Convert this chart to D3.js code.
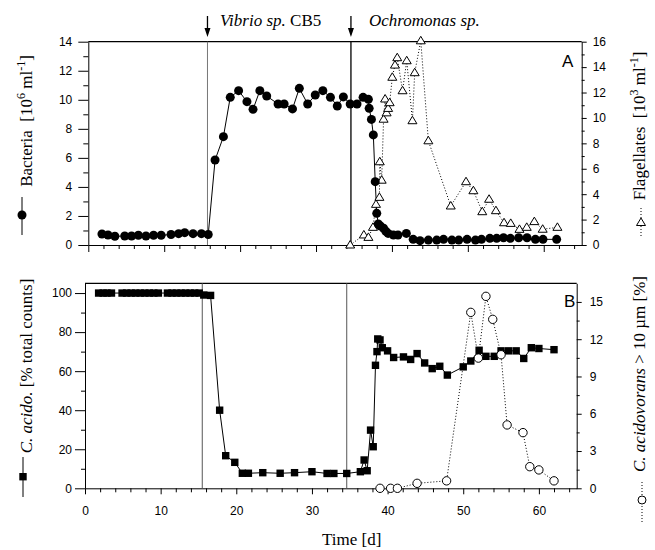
<!DOCTYPE html>
<html lang="en">
<head>
<meta charset="UTF-8" />
<title>Bacteria and flagellates</title>
<style>
  body { margin: 0; background: #fff; }
  svg { display: block; background: #fff; }
  .tick text { font-family: "Liberation Sans", Arial, sans-serif; font-size: 12px; fill: #000; }
  .tick line, .domain { stroke: #000; }
  .serif { font-family: "Liberation Serif", "Times New Roman", serif; font-size: 17px; fill: #000; }
</style>
</head>
<body>
<svg id="chart" width="655" height="550"></svg>
<script src="https://d3js.org/d3.v7.min.js"></script>
<script>
// ---- panel A: bacteria (left axis) ----
const bactDay = [1.8, 2.6, 3.5, 4.8, 5.7, 6.6, 7.6, 8.6, 9.6, 10.9, 11.9, 12.7, 13.8, 14.9, 15.8,
  16.7, 17.8, 18.7, 19.8, 20.9, 21.7, 22.6, 23.5, 25.0, 25.8, 26.9, 27.8, 28.9, 29.9, 30.9, 31.9,
  32.8, 33.6, 34.5, 35.4, 36.2, 36.9, 37.0, 37.3, 37.55, 37.8, 38.0, 38.2, 38.5, 38.9, 39.2, 39.5,
  40.2, 40.8, 41.9, 42.8, 43.7, 44.8, 45.9, 46.8, 47.9, 48.8, 49.9, 51.0, 51.8, 52.9, 53.8, 54.7,
  55.6, 56.7, 57.8, 58.9, 59.9, 61.7];
const bactVal = [0.76, 0.69, 0.6, 0.62, 0.62, 0.67, 0.62, 0.67, 0.67, 0.72, 0.78, 0.85, 0.78, 0.78, 0.72,
  5.85, 7.46, 10.17, 10.63, 9.87, 9.34, 10.63, 10.26, 9.71, 9.71, 9.37, 10.79, 9.71, 10.33, 10.63, 10.17,
  9.57, 10.2, 9.71, 9.71, 10.17, 10.03, 9.41, 8.65, 7.58, 4.36, 2.18, 1.45, 1.3, 1.15, 0.95, 0.8,
  0.69, 0.69, 0.8, 0.39, 0.3, 0.34, 0.34, 0.39, 0.34, 0.34, 0.39, 0.34, 0.39, 0.46, 0.46, 0.5,
  0.46, 0.5, 0.5, 0.39, 0.39, 0.39];

// ---- panel A: flagellates (right axis) ----
const flagDay = [34.5, 36.3, 36.9, 37.5, 37.9, 38.35, 38.4, 38.65, 38.9, 39.1, 39.3, 39.5, 39.7, 40.05,
  40.4, 40.7, 41.4, 41.95, 42.7, 43.0, 43.8, 44.8, 47.75, 49.76, 50.73, 51.9, 52.8, 53.7, 54.77,
  55.65, 56.8, 57.76, 58.76, 59.86, 61.8];
const flagVal = [0.0, 0.79, 0.6, 1.39, 3.2, 3.75, 6.55, 5.1, 9.9, 11.49, 10.4, 10.75, 11.2, 13.2,
  14.16, 14.74, 12.14, 14.5, 9.78, 13.56, 16.07, 8.2, 3.07, 4.98, 4.27, 2.62, 3.6, 2.7, 1.75,
  1.7, 1.23, 1.39, 1.84, 1.24, 1.39];

// ---- panel B: C. acidovorans share (left axis) ----
const acidoDay = [1.8, 2.4, 2.9, 3.5, 4.9, 5.5, 6.1, 6.7, 7.3, 7.9, 8.5, 9.1, 9.7, 10.9, 11.5, 12.1,
  12.7, 13.3, 13.9, 14.5, 15.1, 15.7, 16.6, 17.8, 18.6, 19.8, 20.8, 21.6, 23.5, 25.8, 27.7, 30.0,
  32.0, 32.9, 34.6, 36.4, 36.9, 37.3, 37.75, 38.1, 38.4, 38.6, 38.7, 39.0, 39.3, 40.0, 40.8, 42.1,
  43.05, 43.9, 44.9, 45.9, 46.9, 47.9, 50.0, 51.0, 52.1, 53.0, 54.1, 55.0, 56.0, 57.0, 58.0, 59.0,
  60.0, 62.0];
const acidoVal = [100, 100, 100, 100, 100, 100, 100, 100, 100, 100, 100, 100, 100, 100, 100, 100,
  100, 100, 100, 100, 100, 99, 98.8, 40, 16.7, 13.3, 7.7, 7.7, 8.0, 7.7, 8.0, 8.5,
  7.6, 7.6, 7.6, 8.5, 14.5, 9.0, 29.8, 21.3, 63, 70, 76.5, 76, 72, 70.4, 67, 67.3,
  66, 69, 64.2, 61.3, 62.5, 58, 62.2, 65.2, 70.7, 67.6, 67.6, 70.4, 70.4, 70.4, 66.5, 72,
  71.6, 71];

// ---- panel B: C. acidovorans > 10 um (right axis) ----
const largeDay = [39.0, 40.4, 41.3, 43.9, 47.8, 51.0, 52.0, 53.0, 53.9, 55.0, 55.8, 57.9, 58.8, 60.0, 62.0];
const largeVal = [0, 0, 0, 0.4, 0.6, 14.16, 10.48, 15.45, 13.6, 10.75, 5.1, 4.48, 1.74, 1.48, 0.6];

// events (day of addition)
const eventDayA = [15.7, 34.6];
const eventDayB = [15.5, 34.6];

// ticks
const xMajor = [0, 10, 20, 30, 40, 50, 60];
const xMinor = [2, 4, 6, 8, 12, 14, 16, 18, 22, 24, 26, 28, 32, 34, 36, 38, 42, 44, 46, 48, 52, 54, 56, 58, 62, 64];
const yA1Major = [0, 2, 4, 6, 8, 10, 12, 14];
const yA1Minor = [1, 3, 5, 7, 9, 11, 13];
const yA2Major = [0, 2, 4, 6, 8, 10, 12, 14, 16];
const yA2Minor = [1, 3, 5, 7, 9, 11, 13, 15];
const yB1Major = [0, 20, 40, 60, 80, 100];
const yB1Minor = [10, 30, 50, 70, 90];
const yB2Major = [0, 3, 6, 9, 12, 15];
const yB2Minor = [1.5, 4.5, 7.5, 10.5, 13.5];

const svg = d3.select("#chart");

// scales
const xA = d3.scaleLinear().domain([0, 65]).range([88.3, 581.7]);
const yA1 = d3.scaleLinear().domain([0, 14]).range([245, 41.7]);
const yA2 = d3.scaleLinear().domain([0, 16]).range([245, 41.7]);
const xB = d3.scaleLinear().domain([0, 65]).range([85, 576.7]);
const yB1 = d3.scaleLinear().domain([0, 105]).range([488.3, 283.3]);
const yB2 = d3.scaleLinear().domain([0, 16.5]).range([488.3, 283.3]);

function addAxis(axisFn, scale, major, minor, bigSize, smallSize, pad, transform, labels) {
  const gMin = svg.append("g").attr("transform", transform)
    .call(axisFn(scale).tickValues(minor).tickSize(smallSize).tickSizeOuter(0).tickFormat(""));
  gMin.select(".domain").remove();
  const g = svg.append("g").attr("transform", transform)
    .call(axisFn(scale).tickValues(major).tickSize(bigSize).tickSizeOuter(0).tickPadding(pad)
      .tickFormat(labels ? d3.format("d") : ""));
  return g;
}

// panel A axes
addAxis(d3.axisLeft, yA1, yA1Major, yA1Minor, 10, 5, 6, "translate(88.3,0)", true);
addAxis(d3.axisRight, yA2, yA2Major, yA2Minor, 5, 3, 6, "translate(581.7,0)", true);
addAxis(d3.axisBottom, xA, xMajor, xMinor, 7, 4, 3, "translate(0,245)", false);
svg.append("line").attr("x1", 88.3).attr("x2", 581.7).attr("y1", 41.7).attr("y2", 41.7)
  .attr("stroke", "#000").attr("stroke-width", 1.2);

// panel B axes
addAxis(d3.axisLeft, yB1, yB1Major, yB1Minor, 10, 4, 3, "translate(85,0)", true);
addAxis(d3.axisRight, yB2, yB2Major, yB2Minor, 5, 3, 8, "translate(576.7,0)", true);
addAxis(d3.axisBottom, xB, xMajor, xMinor, 6, 4, 12, "translate(0,488.3)", true);
svg.append("line").attr("x1", 85).attr("x2", 576.7).attr("y1", 283.3).attr("y2", 283.3)
  .attr("stroke", "#000").attr("stroke-width", 1.2);

// event lines and arrows
eventDayA.forEach((d, i) => {
  const x = xA(d);
  svg.append("line").attr("x1", x).attr("x2", x).attr("y1", 41.7).attr("y2", 245)
    .attr("stroke", i === 0 ? "#777" : "#000").attr("stroke-width", i === 0 ? 1 : 1.3);
  svg.append("line").attr("x1", x).attr("x2", x).attr("y1", 16).attr("y2", 31)
    .attr("stroke", "#000").attr("stroke-width", 1.3);
  svg.append("path").attr("d", `M${x - 3},28 L${x + 3},28 L${x},37 Z`).attr("fill", "#000");
});
eventDayB.forEach(d => {
  svg.append("line").attr("x1", xB(d)).attr("x2", xB(d)).attr("y1", 283.3).attr("y2", 488.3)
    .attr("stroke", "#555").attr("stroke-width", 1);
});

// event labels
const t1 = svg.append("text").attr("class", "serif").attr("x", 220).attr("y", 26);
t1.append("tspan").attr("font-style", "italic").text("Vibrio sp.");
t1.append("tspan").text(" CB5");
svg.append("text").attr("class", "serif").attr("x", 369).attr("y", 26)
  .attr("font-style", "italic").text("Ochromonas sp.");

// panel letters
svg.append("text").attr("x", 562).attr("y", 67).attr("font-family", "Liberation Sans, Arial, sans-serif")
  .attr("font-size", 17).text("A");
svg.append("text").attr("x", 564).attr("y", 307).attr("font-family", "Liberation Sans, Arial, sans-serif")
  .attr("font-size", 17).text("B");

// series
const zipA1 = bactDay.map((d, i) => [d, bactVal[i]]);
const zipA2 = flagDay.map((d, i) => [d, flagVal[i]]);
const zipB1 = acidoDay.map((d, i) => [d, acidoVal[i]]);
const zipB2 = largeDay.map((d, i) => [d, largeVal[i]]);

svg.append("path").datum(zipA2).attr("fill", "none").attr("stroke", "#000").attr("stroke-width", 1)
  .attr("stroke-dasharray", "1,2")
  .attr("d", d3.line().x(d => xA(d[0])).y(d => yA2(d[1])));
svg.append("path").datum(zipA1).attr("fill", "none").attr("stroke", "#000").attr("stroke-width", 1)
  .attr("d", d3.line().x(d => xA(d[0])).y(d => yA1(d[1])));
svg.append("g").selectAll("path").data(zipA2).join("path")
  .attr("d", d => `M${xA(d[0])},${yA2(d[1]) - 4.5} l4.5,7.5 l-9,0 Z`)
  .attr("fill", "#fff").attr("stroke", "#000").attr("stroke-width", 1);
svg.append("g").selectAll("circle").data(zipA1).join("circle")
  .attr("cx", d => xA(d[0])).attr("cy", d => yA1(d[1])).attr("r", 4.5).attr("fill", "#000");

svg.append("path").datum(zipB2).attr("fill", "none").attr("stroke", "#000").attr("stroke-width", 1)
  .attr("stroke-dasharray", "1,2")
  .attr("d", d3.line().x(d => xB(d[0])).y(d => yB2(d[1])));
svg.append("path").datum(zipB1).attr("fill", "none").attr("stroke", "#000").attr("stroke-width", 1)
  .attr("d", d3.line().x(d => xB(d[0])).y(d => yB1(d[1])));
svg.append("g").selectAll("rect").data(zipB1).join("rect")
  .attr("x", d => xB(d[0]) - 3.7).attr("y", d => yB1(d[1]) - 3.7)
  .attr("width", 7.4).attr("height", 7.4).attr("fill", "#000");
svg.append("g").selectAll("circle").data(zipB2).join("circle")
  .attr("cx", d => xB(d[0])).attr("cy", d => yB2(d[1])).attr("r", 4.2)
  .attr("fill", "#fff").attr("stroke", "#000").attr("stroke-width", 1);

// rotated axis titles
function sideTitle(x, y, parts) {
  const t = svg.append("text").attr("class", "serif").attr("text-anchor", "middle")
    .attr("transform", `translate(${x},${y}) rotate(-90)`).attr("xml:space", "preserve");
  parts.forEach(p => {
    const s = t.append("tspan").text(p.t);
    if (p.i) s.attr("font-style", "italic");
    if (p.sup) s.attr("font-size", 12).attr("dy", -7);
    if (p.down) s.attr("dy", 7);
  });
}
sideTitle(31.5, 121, [{ t: "Bacteria  [10" }, { t: "6", sup: true }, { t: " ml", down: true }, { t: "-1", sup: true }, { t: "]", down: true }]);
sideTitle(645, 126, [{ t: "Flagellates  [10" }, { t: "3", sup: true }, { t: " ml", down: true }, { t: "-1", sup: true }, { t: "]", down: true }]);
sideTitle(31.5, 366, [{ t: "C. acido.", i: true }, { t: " [% total counts]" }]);
sideTitle(645, 374, [{ t: "C. acidovorans", i: true }, { t: " > 10 µm [%]" }]);

// legend markers beside the titles
svg.append("line").attr("x1", 22).attr("x2", 22).attr("y1", 197).attr("y2", 235).attr("stroke", "#000");
svg.append("circle").attr("cx", 22).attr("cy", 215).attr("r", 4.5).attr("fill", "#000");
svg.append("line").attr("x1", 641).attr("x2", 641).attr("y1", 208).attr("y2", 238)
  .attr("stroke", "#000").attr("stroke-dasharray", "1,2");
svg.append("path").attr("d", "M641,218 l4.5,7.5 l-9,0 Z").attr("fill", "#fff").attr("stroke", "#000");
svg.append("line").attr("x1", 23).attr("x2", 23).attr("y1", 457).attr("y2", 497).attr("stroke", "#000");
svg.append("rect").attr("x", 19.3).attr("y", 473).attr("width", 7.4).attr("height", 7.4).attr("fill", "#000");
svg.append("line").attr("x1", 642).attr("x2", 642).attr("y1", 482).attr("y2", 522)
  .attr("stroke", "#000").attr("stroke-dasharray", "1,2");
svg.append("circle").attr("cx", 642).attr("cy", 500).attr("r", 4).attr("fill", "#fff").attr("stroke", "#000");

// x title
svg.append("text").attr("class", "serif").attr("x", 322).attr("y", 545).text("Time [d]");
</script>
</body>
</html>
